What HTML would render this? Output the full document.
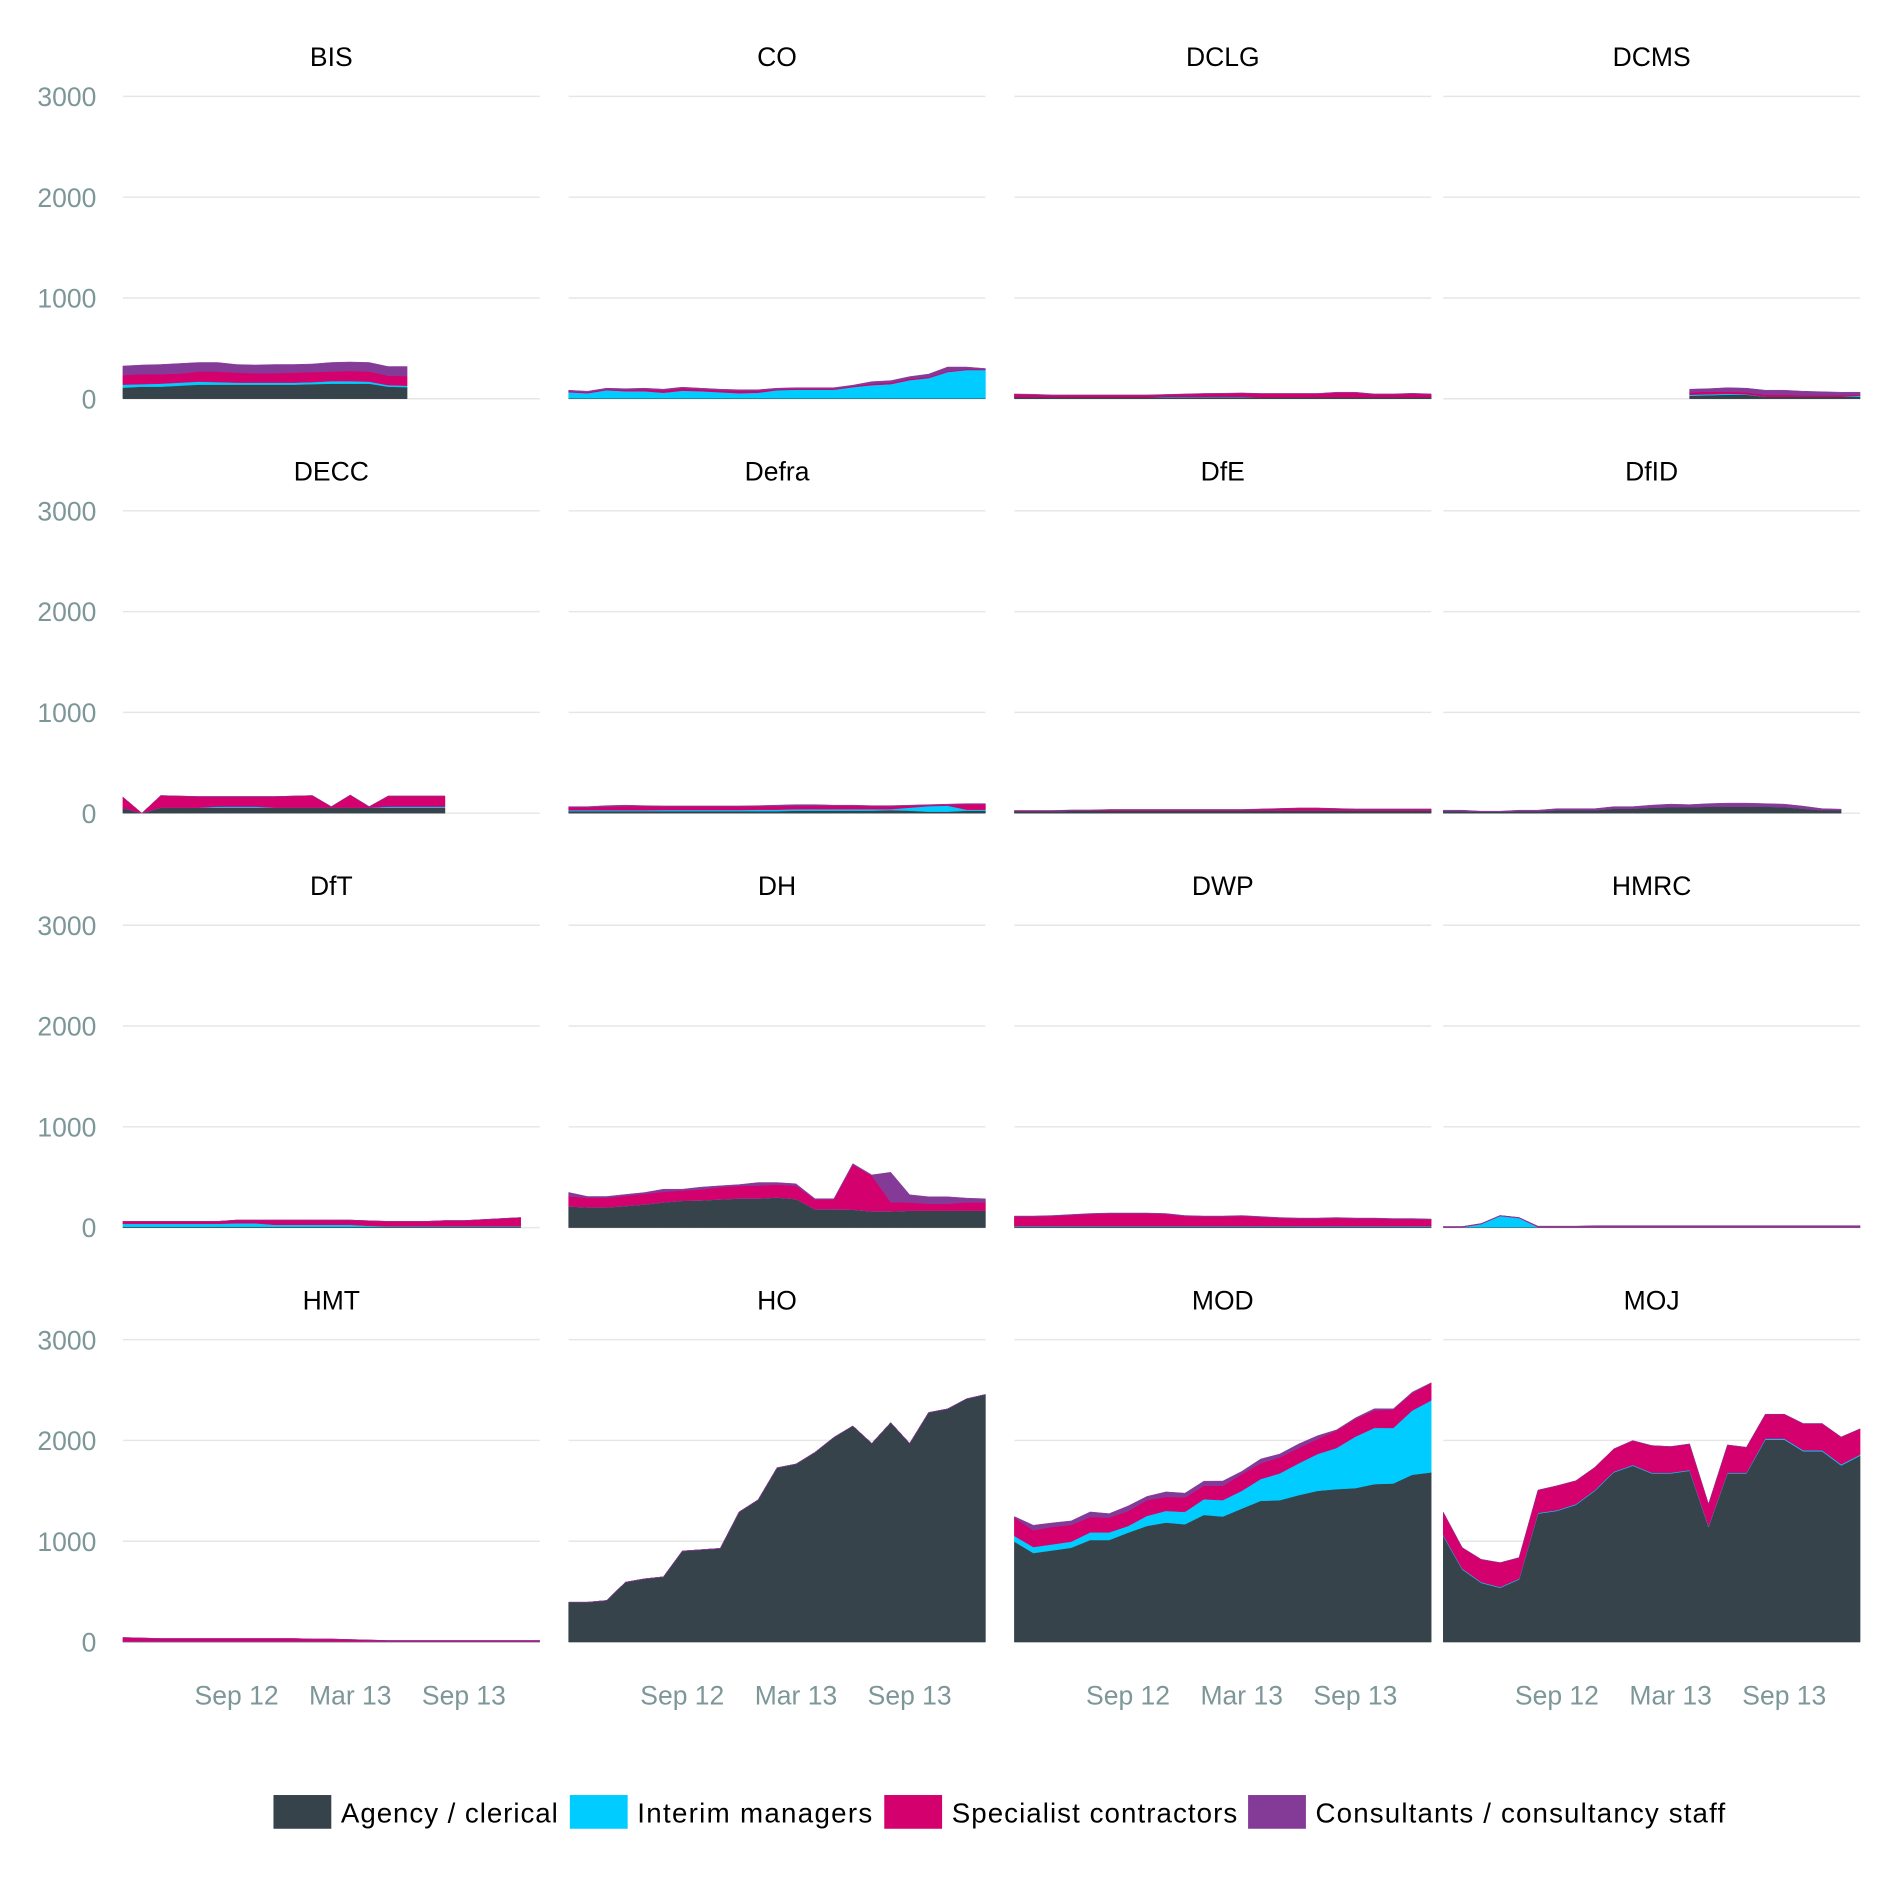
<!DOCTYPE html>
<html><head><meta charset="utf-8"><style>
html,body{margin:0;padding:0;background:#fff;}
svg{display:block;}
text{font-family:"Liberation Sans",sans-serif;}
</style></head>
<body>
<svg id="chart" width="1889" height="1889" viewBox="0 0 1568 1568" xmlns="http://www.w3.org/2000/svg"></svg>
<script>
const depts = ["BIS","CO","DCLG","DCMS","DECC","Defra","DfE","DfID","DfT","DH","DWP","HMRC","HMT","HO","MOD","MOJ"];
const yTicks = [0,1000,2000,3000];
const xTickMonths = [6,12,18];
const xTickLabels = ["Sep 12","Mar 13","Sep 13"];
const seriesNames = ["Agency / clerical","Interim managers","Specialist contractors","Consultants / consultancy staff"];
const seriesColors = ["#37434b","#00ccff","#d4006e","#843b98"];
const N = 23; // Mar 12 .. Jan 14
const _ = null;

const agency = {
BIS:[110,120,120,130,140,140,140,140,140,140,145,150,150,150,120,115,_,_,_,_,_,_,_],
CO:[5,5,5,5,5,5,5,5,5,5,5,5,5,5,5,5,5,5,5,5,5,5,5],
DCLG:[15,15,15,15,15,15,15,15,15,15,15,15,15,15,15,15,15,15,15,15,15,15,15],
DCMS:[_,_,_,_,_,_,_,_,_,_,_,_,_,30,35,40,40,20,20,20,20,20,20],
DECC:[50,0,55,55,55,55,55,55,55,55,55,55,55,55,55,55,55,55,_,_,_,_,_],
Defra:[20,20,20,20,20,20,20,20,20,20,20,20,25,25,25,25,25,30,25,15,15,25,25],
DfE:[20,20,20,25,25,25,25,25,25,25,25,25,25,25,25,25,25,25,25,25,25,25,25],
DfID:[20,20,15,15,20,20,30,30,30,45,45,55,60,60,65,65,65,65,60,45,30,30,_],
DfT:[8,8,8,8,8,8,8,8,8,8,8,8,8,8,8,8,8,8,8,8,8,8,_],
DH:[211,201,201,214,230,250,266,270,280,289,289,299,283,181,181,178,161,161,168,168,168,168,168],
DWP:[10,10,10,10,10,10,10,10,10,10,10,10,10,10,10,10,10,10,10,10,10,10,10],
HMRC:[5,5,5,5,5,5,5,5,5,5,5,5,5,5,5,5,5,5,5,5,5,5,5],
HMT:[5,5,5,5,5,5,5,5,5,5,5,5,5,5,5,5,5,5,5,5,5,5,5],
HO:[395,395,412,594,627,647,903,916,929,1291,1411,1729,1766,1882,2031,2144,1971,2177,1971,2277,2313,2413,2456],
MOD:[996,883,909,936,1012,1012,1085,1152,1185,1168,1261,1245,1324,1401,1407,1457,1500,1517,1527,1567,1573,1660,1683],
MOJ:[1052,720,587,538,621,1274,1301,1361,1500,1683,1749,1673,1673,1699,1142,1673,1673,2008,2008,1892,1892,1752,1849]
};
const interim = {
BIS:[30,25,30,30,30,25,20,20,20,20,20,25,25,20,15,15,_,_,_,_,_,_,_],
CO:[60,50,80,70,70,55,75,70,60,50,55,80,85,85,85,110,130,140,180,200,260,280,280],
DCLG:[0,0,0,0,0,0,0,0,5,5,5,5,5,0,0,0,0,0,0,0,0,0,0],
DCMS:[_,_,_,_,_,_,_,_,_,_,_,_,_,10,10,10,5,0,0,0,0,0,10],
DECC:[0,0,0,0,0,10,10,10,0,0,0,0,0,0,10,10,10,10,_,_,_,_,_],
Defra:[10,10,10,10,10,12,12,12,12,12,15,15,15,15,15,15,15,10,30,55,60,10,10],
DfE:[0,0,0,0,0,0,0,0,0,0,0,0,0,0,0,0,0,0,0,0,0,0,0],
DfID:[0,0,0,0,0,0,0,0,0,0,0,0,0,0,0,0,0,0,0,0,0,0,_],
DfT:[30,30,30,30,30,30,35,35,20,20,20,20,20,10,5,5,5,5,5,5,5,5,_],
DH:[0,0,0,0,0,0,0,0,0,0,0,0,0,0,0,0,0,0,0,0,0,0,0],
DWP:[5,5,5,5,5,5,5,5,5,5,5,5,5,5,5,5,5,5,5,5,5,5,5],
HMRC:[0,0,30,110,90,0,0,0,0,0,0,0,0,0,0,0,0,0,0,0,0,0,0],
HMT:[0,0,0,0,0,0,0,0,0,0,0,0,0,0,0,0,0,0,0,0,0,0,0],
HO:[0,0,0,0,0,0,0,0,0,0,0,0,0,0,0,0,0,0,0,0,0,0,0],
MOD:[56,60,60,60,76,76,66,100,116,123,156,163,176,216,266,315,365,408,511,558,551,637,714],
MOJ:[10,8,7,7,7,7,7,7,7,7,7,7,7,7,7,7,7,10,10,10,10,10,10]
};
const spec = {
BIS:[95,100,95,90,100,105,100,95,95,100,100,95,100,100,95,95,_,_,_,_,_,_,_],
CO:[10,10,10,15,20,25,25,20,20,25,20,10,10,10,10,10,15,15,15,10,10,10,5],
DCLG:[30,25,20,20,20,20,20,20,20,25,30,30,35,35,35,35,35,45,45,30,30,35,30],
DCMS:[_,_,_,_,_,_,_,_,_,_,_,_,_,25,25,20,20,20,20,15,15,15,10],
DECC:[110,0,120,115,110,100,100,100,110,115,120,10,125,10,105,105,105,105,_,_,_,_,_],
Defra:[30,30,35,40,40,35,35,35,35,35,35,35,35,35,35,35,30,30,20,10,10,55,55],
DfE:[5,5,5,5,5,10,10,10,10,10,10,10,10,15,20,25,25,20,15,15,15,15,15],
DfID:[0,0,0,0,0,0,0,0,0,0,0,0,0,0,0,0,0,0,0,0,0,0,_],
DfT:[24,24,24,24,24,24,32,32,47,47,47,47,47,50,49,49,49,57,57,67,77,87,_],
DH:[99,95,95,102,105,105,102,109,122,125,128,128,132,99,99,447,355,92,82,69,69,82,82],
DWP:[95,95,100,110,120,125,125,125,120,100,95,95,100,90,80,75,75,80,75,75,70,70,65],
HMRC:[5,5,5,5,5,5,5,5,5,5,5,5,5,5,5,5,5,5,5,5,5,5,5],
HMT:[40,35,30,30,30,30,30,30,30,30,25,25,20,15,10,10,10,10,10,10,10,10,10],
HO:[0,0,0,0,0,0,0,0,0,0,0,0,0,0,0,0,0,0,0,0,0,0,0],
MOD:[183,166,173,166,153,146,149,156,139,143,133,143,166,156,159,153,149,173,176,173,183,173,173],
MOJ:[226,209,226,242,209,226,242,232,226,226,242,269,259,259,219,275,252,242,242,265,265,272,256]
};
const cons = {
BIS:[90,90,95,100,90,90,80,80,85,80,80,90,90,90,90,95,_,_,_,_,_,_,_],
CO:[10,10,10,10,10,10,10,10,10,10,10,10,10,10,10,10,20,20,20,30,40,20,10],
DCLG:[3,5,3,3,3,3,3,3,3,3,3,5,3,3,3,3,3,5,5,3,3,5,3],
DCMS:[_,_,_,_,_,_,_,_,_,_,_,_,_,30,30,40,40,45,45,40,35,30,25],
DECC:[0,0,0,0,0,0,0,0,0,0,0,0,0,0,0,0,0,0,_,_,_,_,_],
Defra:[5,5,10,10,5,5,5,5,5,5,5,10,10,10,5,5,5,5,5,5,5,5,5],
DfE:[2,2,2,2,2,2,2,2,2,2,2,2,2,2,2,2,2,2,2,2,2,2,2],
DfID:[10,10,5,5,10,10,15,15,15,20,20,25,30,25,30,35,35,30,30,25,15,10,_],
DfT:[0,0,0,0,0,0,0,0,0,0,0,0,0,0,0,0,0,0,0,0,0,0,_],
DH:[39,13,13,13,13,26,13,23,13,13,30,20,20,7,7,10,7,296,76,69,69,43,36],
DWP:[5,5,5,5,5,5,5,5,5,5,5,5,5,5,5,5,5,5,5,5,5,5,5],
HMRC:[0,0,0,0,0,5,5,5,10,10,10,10,10,10,10,10,10,10,10,10,10,10,10],
HMT:[0,0,0,0,0,0,0,0,0,0,0,0,0,0,0,0,0,0,0,0,0,0,0],
HO:[0,0,0,0,0,0,0,0,0,0,0,0,0,0,0,0,0,0,0,0,0,0,0],
MOD:[10,50,40,40,50,40,50,37,50,43,46,46,27,43,33,40,33,7,10,17,7,10,3],
MOJ:[0,0,0,0,0,0,0,0,0,0,0,0,0,0,0,0,0,0,0,0,0,0,0]
};

const NS = "http://www.w3.org/2000/svg";
const svg = document.getElementById("chart");
const colX = [102,472,842,1198];
const rowTop = [80,424,768,1112];
const panelW = 346, zeroOff = 251;
function mk(tag, attrs, parent){
  const el = document.createElementNS(NS, tag);
  for (const k in attrs) el.setAttribute(k, attrs[k]);
  (parent||svg).appendChild(el);
  return el;
}
function xScale(col, m){ return colX[col] + m * panelW / (N-1); }
function yScale(row, v){ return rowTop[row] + zeroOff - v * zeroOff / 3000; }

const seriesData = [agency, interim, spec, cons];
depts.forEach((d, i) => {
  const col = i % 4, row = Math.floor(i / 4);
  const g = mk("g", {});
  
  
  yTicks.forEach(t => {
    const ln = mk("line", {x1:colX[col], x2:colX[col]+panelW, y1:yScale(row,t), y2:yScale(row,t), stroke:"#e6e6e6", "stroke-width":1.2}, g);
    
    
  });
  const tt = mk("text", {x:colX[col]+panelW/2, y:rowTop[row]-25, "text-anchor":"middle", "font-size":22, fill:"#000"}, g);
  tt.textContent = d;
  
  
  const cum = new Array(N).fill(0);
  seriesData.forEach((s, si) => {
    const vals = s[d];
    const idx = [];
    for (let m = 0; m < N; m++) if (vals[m] !== null) idx.push(m);
    if (!idx.length) return;
    const top = [], bot = [];
    idx.forEach(m => {
      const lo = cum[m], hi = cum[m] + vals[m];
      top.push(xScale(col,m).toFixed(2) + "," + yScale(row,hi).toFixed(2));
      bot.push(xScale(col,m).toFixed(2) + "," + yScale(row,lo).toFixed(2));
      cum[m] = hi;
    });
    const p = mk("polygon", {points: top.concat(bot.reverse()).join(" "), fill: seriesColors[si], stroke: seriesColors[si], "stroke-width":0.4}, g);
    
    
  });
  if (col === 0) {
    yTicks.forEach(t => {
      const yl = mk("text", {x:80, y:yScale(row,t)+8, "text-anchor":"end", "font-size":22, fill:"#7d9799"}, g);
      yl.textContent = t;
      
      
    });
  }
  if (row === 3) {
    xTickMonths.forEach((m, k) => {
      const xl = mk("text", {x:xScale(col,m), y:1415, "text-anchor":"middle", "font-size":22, fill:"#7d9799"}, g);
      xl.textContent = xTickLabels[k];
      
      
    });
  }
});

const legX = [227,473,734,1036];
const legW = [180, 195, 237, 340];
const lg = mk("g", {});


seriesNames.forEach((n, i) => {
  const r = mk("rect", {x:legX[i], y:1490, width:48, height:28, fill:seriesColors[i]}, lg);
  
  
  const t = mk("text", {x:legX[i]+56, y:1513, "font-size":23, fill:"#000", textLength:legW[i], lengthAdjust:"spacing"}, lg);
  t.textContent = n;
  
  
});
</script>
</body></html>
